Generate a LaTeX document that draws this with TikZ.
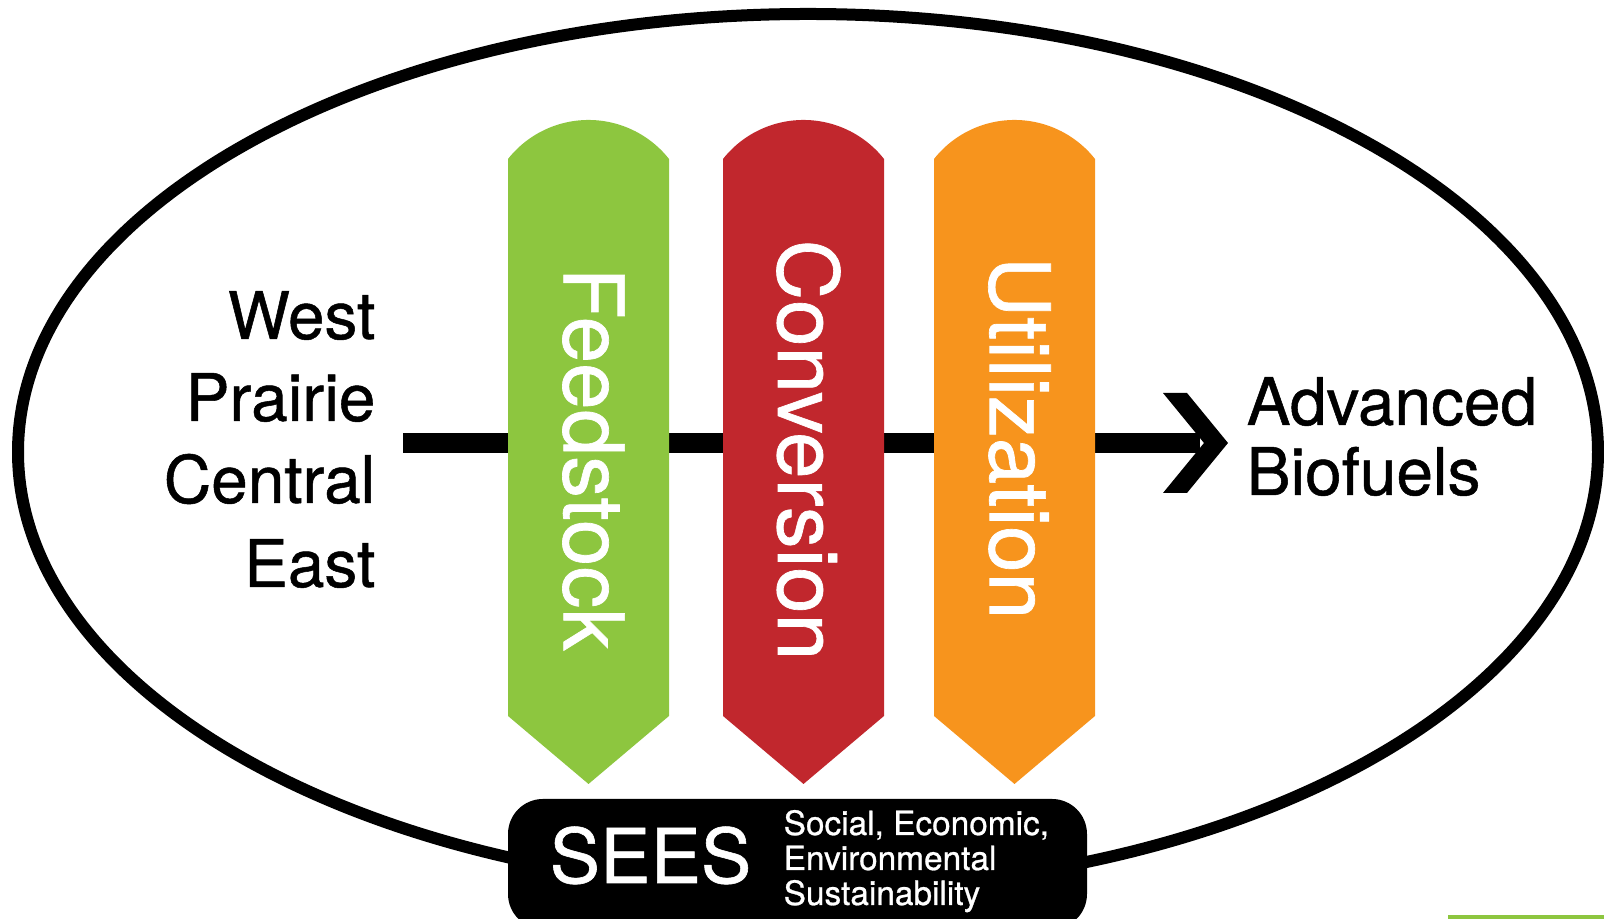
\documentclass[tikz,border=0pt]{standalone}
\usepackage{fontspec}
\setmainfont{TeX Gyre Heros}[FakeBold=0.8]
\definecolor{feedgreen}{HTML}{8DC63F}
\definecolor{convred}{HTML}{C1272D}
\definecolor{utilorange}{HTML}{F7941D}

\begin{document}
\begin{tikzpicture}[
		region/.style={anchor=base east, inner sep=0pt, font=\fontsize{18.7}{22}\selectfont},
		product/.style={anchor=base west, inner sep=0pt, font=\fontsize{18.7}{22}\selectfont},
		stagelabel/.style={rotate=-90, inner sep=0pt, text=white, font=\fontsize{23.8}{28}\selectfont},
		seesnote/.style={anchor=base west, inner sep=0pt, text=white, font=\fontsize{9.5}{11}\selectfont}]
			\useasboundingbox (0, 0) rectangle (16.04, 9.19);
			\clip (0, 0) rectangle (16.04, 9.19);
			% outer loop
			\draw[line width=.12cm] (8.08, 4.67) ellipse (7.90 and 4.38);
			% flow line and chevron
			\coordinate (flowstart) at (4.03, 4.76);
			\coordinate (flowend) at (12.0, 4.76);
			\draw[line width=.2cm] (flowstart) -- (flowend);
			\fill (11.63, 5.26) -- (11.87, 5.26) -- (12.28, 4.76) -- (11.87, 4.26) -- (11.63, 4.26) -- (12.04, 4.76) -- cycle;
			% stages
			\foreach \x/\col/\ty/\name/\txt in {5.08/feedgreen/4.60/feed/Feedstock, 7.23/convred/4.69/conv/Conversion, 9.34/utilorange/4.81/util/Utilization} {
				\fill[\col] (\x, 2.03) -- (\x, 7.60) arc[start angle=141.7, end angle=38.3, radius=1.026] -- (\x+1.61, 2.03) -- (\x+.805, 1.35) -- cycle;
				\node[stagelabel] (\name) at (\x+.855, \ty) {\txt};
			}
			% regions
			\node[region] (west) at (3.76, 5.80) {West};
			\node[region] (prairie) at (3.76, 4.98) {Prairie};
			\node[region] (central) at (3.76, 4.16) {Central};
			\node[region] (east) at (3.76, 3.32) {East};
			\node[product] (advanced) at (12.46, 4.94) {Advanced};
			\node[product] (biofuels) at (12.46, 4.24) {Biofuels};
			% SEES
			\fill[rounded corners=.35cm] (5.08, -.1) rectangle (10.87, 1.20);
			\node[anchor=base west, inner sep=0pt, text=white, font=\fontsize{21.5}{26}\selectfont] (sees) at (5.49, .36) {SEES};
			\node[seesnote] (social) at (7.83, .84) {Social, Economic,};
			\node[seesnote] (environ) at (7.83, .49) {Environmental};
			\node[seesnote] (sustain) at (7.83, .14) {Sustainability};
			\fill[feedgreen] (14.48, 0) rectangle (16.04, .04);
		\end{tikzpicture}
\end{document}
